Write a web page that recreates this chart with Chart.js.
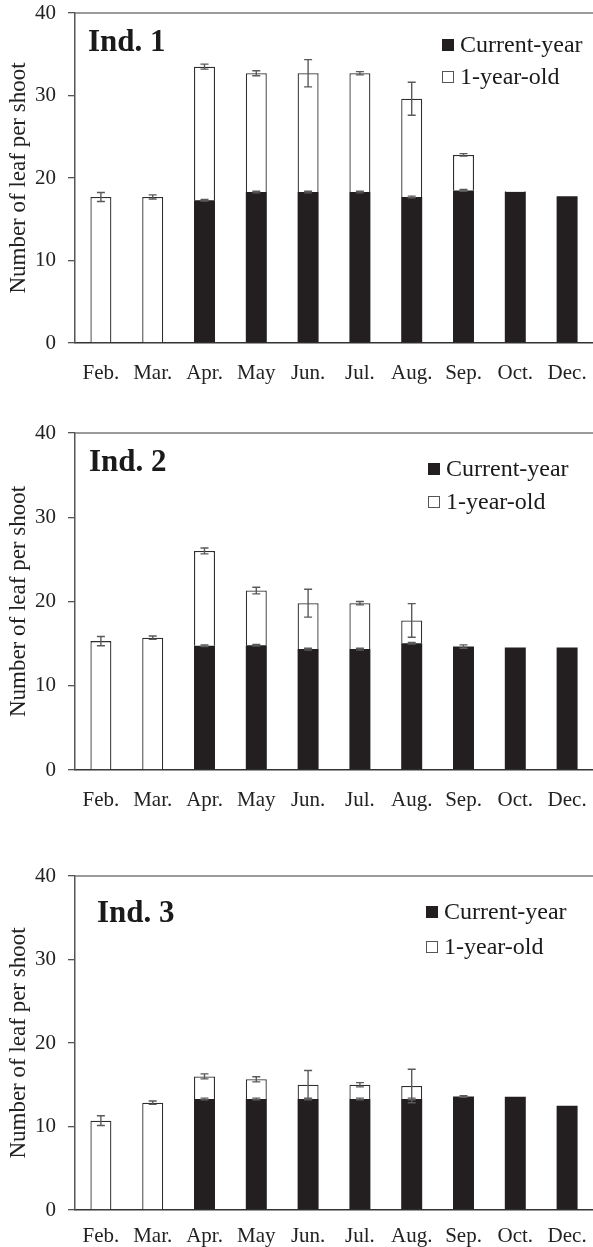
<!DOCTYPE html>
<html>
<head>
<meta charset="utf-8">
<script src="https://cdn.jsdelivr.net/npm/chart.js@4"></script>
<style>
  html, body { margin: 0; padding: 0; background: #fff; }
  body { width: 593px; height: 1247px; position: relative; overflow: hidden; }
  .panel { position: absolute; left: 0; }
  canvas { display: block; }
</style>
</head>
<body>
<div class="panel" style="top:0px"><canvas id="ind1" width="593" height="392"></canvas></div>
<div class="panel" style="top:420px"><canvas id="ind2" width="593" height="392"></canvas></div>
<div class="panel" style="top:862px"><canvas id="ind3" width="593" height="385"></canvas></div>
<script>
// Sampling months
const months = ['Feb.', 'Mar.', 'Apr.', 'May', 'Jun.', 'Jul.', 'Aug.', 'Sep.', 'Oct.', 'Dec.'];
const yTicks = [0, 10, 20, 30, 40];
const seriesNames = ['Current-year', '1-year-old'];

// Individual 1: leaves per shoot (mean) and error (±)
const current1 = [0, 0, 17.3, 18.3, 18.3, 18.3, 17.7, 18.5, 18.3, 17.8];
const oneYear1 = [17.7, 17.7, 16.2, 14.4, 14.4, 14.4, 11.9, 4.3, 0.1, 0];
const errCurrent1 = [0, 0, 0.1, 0.1, 0.1, 0.1, 0.1, 0.1, 0, 0];
const errOneYear1 = [0.55, 0.25, 0.3, 0.3, 1.65, 0.2, 2.0, 0.15, 0, 0];

// Individual 2
const current2 = [0, 0, 14.75, 14.8, 14.35, 14.35, 15.05, 14.65, 14.55, 14.55];
const oneYear2 = [15.3, 15.7, 11.25, 6.5, 5.45, 5.45, 2.7, 0, 0, 0];
const errCurrent2 = [0, 0, 0.1, 0.1, 0.1, 0.1, 0.1, 0.2, 0, 0];
const errOneYear2 = [0.55, 0.2, 0.35, 0.4, 1.65, 0.2, 2.0, 0, 0, 0];

// Individual 3
const current3 = [0, 0, 13.3, 13.3, 13.3, 13.3, 13.3, 13.6, 13.55, 12.5];
const oneYear3 = [10.7, 12.85, 2.7, 2.35, 1.7, 1.7, 1.55, 0, 0, 0];
const errCurrent3 = [0, 0, 0.1, 0.1, 0.1, 0.1, 0.1, 0.1, 0, 0];
const errOneYear3 = [0.58, 0.2, 0.3, 0.3, 1.7, 0.25, 2.0, 0, 0, 0];

const SERIF = '"Liberation Serif", "Times New Roman", serif';
Chart.defaults.font.family = SERIF;
Chart.defaults.color = '#222';

// Error whiskers at the top of each stacked segment
const errorBars = {
  id: 'errorBars',
  afterDatasetsDraw(chart) {
    const ctx = chart.ctx;
    const yScale = chart.scales.y;
    ctx.save();
    ctx.strokeStyle = '#5a5a5a';
    ctx.lineWidth = 1.4;
    chart.data.datasets.forEach((ds, di) => {
      const meta = chart.getDatasetMeta(di);
      if (!ds.errors) return;
      meta.data.forEach((bar, i) => {
        const e = ds.errors[i];
        if (!e) return;
        let total = 0;
        for (let k = 0; k <= di; k++) total += chart.data.datasets[k].data[i] || 0;
        const yHi = yScale.getPixelForValue(total + e);
        const yLo = yScale.getPixelForValue(total - e);
        const x = bar.x;
        const cap = 4;
        ctx.beginPath();
        ctx.moveTo(x, yHi); ctx.lineTo(x, yLo);
        ctx.moveTo(x - cap, yHi); ctx.lineTo(x + cap, yHi);
        ctx.moveTo(x - cap, yLo); ctx.lineTo(x + cap, yLo);
        ctx.stroke();
      });
    });
    ctx.restore();
  }
};

// Top frame line, panel label and legend
const panelDecor = {
  id: 'panelDecor',
  afterDraw(chart, args, opts) {
    const ctx = chart.ctx;
    const area = chart.chartArea;
    ctx.save();
    ctx.strokeStyle = '#7a7a7a';
    ctx.lineWidth = 1.5;
    ctx.beginPath();
    ctx.moveTo(area.left, area.top);
    ctx.lineTo(chart.width, area.top);
    ctx.stroke();

    ctx.fillStyle = '#1a1a1a';
    ctx.font = 'bold 31px ' + SERIF;
    ctx.textBaseline = 'middle';
    ctx.textAlign = 'left';
    ctx.fillText(opts.title, opts.titleX, opts.titleY);

    ctx.font = '24px ' + SERIF;
    chart.data.datasets.forEach((ds, i) => {
      const ry = opts.legendRows[i];
      if (ds.backgroundColor === '#fff') {
        ctx.fillStyle = '#fff';
        ctx.fillRect(opts.boxX, ry - 6, 12, 12);
        ctx.strokeStyle = '#555';
        ctx.lineWidth = 1;
        ctx.strokeRect(opts.boxX + 0.5, ry - 5.5, 11, 11);
      } else {
        ctx.fillStyle = ds.backgroundColor;
        ctx.fillRect(opts.boxX, ry - 6, 12, 12);
      }
      ctx.fillStyle = '#1a1a1a';
      ctx.fillText(ds.label, opts.textX, ry + 1);
    });
    ctx.restore();
  }
};

function makePanel(id, cur, old, errCur, errOld, deco, top, bottom, labelPad) {
  const canvas = document.getElementById(id);
  const H = canvas.height;
  return new Chart(canvas, {
    type: 'bar',
    data: {
      labels: months,
      datasets: [
        {
          label: seriesNames[0],
          data: cur.map(v => v || null),
          errors: errCur,
          backgroundColor: '#231f20',
          borderColor: '#231f20',
          borderWidth: 0,
          categoryPercentage: 1,
          barPercentage: 0.405
        },
        {
          label: seriesNames[1],
          data: old.map(v => v || null),
          errors: errOld,
          backgroundColor: '#fff',
          borderColor: '#2e2e2e',
          borderWidth: 1.3,
          categoryPercentage: 1,
          barPercentage: 0.405
        }
      ]
    },
    options: {
      responsive: false,
      animation: false,
      layout: { padding: { top: top, left: 0, right: 0, bottom: 0 } },
      plugins: {
        legend: { display: false },
        tooltip: { enabled: false },
        panelDecor: deco
      },
      scales: {
        x: {
          stacked: true,
          grid: { display: true, drawOnChartArea: false, drawTicks: false },
          border: { display: true, color: '#333', width: 1.5 },
          ticks: { color: '#222', font: { size: 21 }, padding: labelPad, maxRotation: 0, autoSkip: false },
          afterFit: s => { s.height = H - bottom; s.paddingLeft = 0; s.paddingRight = 0; }
        },
        y: {
          stacked: true,
          min: yTicks[0],
          max: yTicks[yTicks.length - 1],
          afterBuildTicks: s => { s.ticks = yTicks.map(v => ({ value: v })); },
          ticks: { color: '#222', font: { size: 21 }, padding: 12 },
          grid: { drawOnChartArea: false, drawTicks: true, tickLength: 7, color: '#555', lineWidth: 1.3 },
          border: { display: true, color: '#555', width: 1.5 },
          title: {
            display: true,
            text: 'Number of leaf per shoot',
            color: '#222',
            font: { size: 23 },
            padding: { top: 5, bottom: 0 }
          },
          afterFit: s => { s.width = 75; s.paddingTop = 0; s.paddingBottom = 0; }
        }
      }
    },
    plugins: [errorBars, panelDecor]
  });
}

makePanel('ind1', current1, oneYear1, errCurrent1, errOneYear1,
  { title: 'Ind. 1', titleX: 88, titleY: 43, boxX: 442, textX: 460, legendRows: [45, 77] }, 13, 343, 18);
makePanel('ind2', current2, oneYear2, errCurrent2, errOneYear2,
  { title: 'Ind. 2', titleX: 89, titleY: 43, boxX: 428, textX: 446, legendRows: [49, 82] }, 13, 350, 18);
makePanel('ind3', current3, oneYear3, errCurrent3, errOneYear3,
  { title: 'Ind. 3', titleX: 97, titleY: 52, boxX: 426, textX: 444, legendRows: [50, 85] }, 14, 348, 14);
</script>
</body>
</html>
